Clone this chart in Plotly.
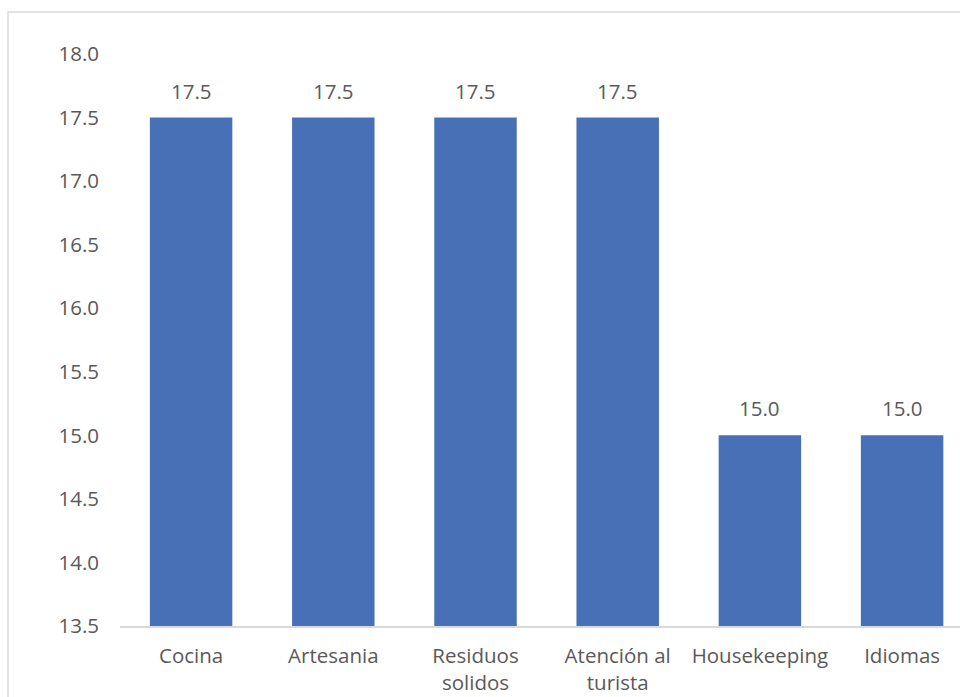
import plotly.graph_objects as go

categories = ["Cocina", "Artesania", "Residuos<br>solidos", "Atención al<br>turista", "Housekeeping", "Idiomas"]
values = [17.5, 17.5, 17.5, 17.5, 15.0, 15.0]
y_ticks = [13.5, 14.0, 14.5, 15.0, 15.5, 16.0, 16.5, 17.0, 17.5, 18.0]
y_base = 13.5

W, H = 960, 697
L, R, T, B = 120, 0, 54, 71
plot_w = W - L - R
plot_h = H - T - B
cat_px = 142.2
x_max = -0.5 + plot_w / cat_px

FONT = "Open Sans"
FS = 20.5
GRAY = "#595959"

fig = go.Figure()
fig.add_trace(go.Bar(
    x=list(range(len(categories))), y=[v - y_base for v in values], base=y_base,
    width=0.58, marker=dict(color="#4770b7", line=dict(width=0)),
    hoverinfo="skip",
))

for i, v in enumerate(values):
    fig.add_annotation(x=i, y=v, text=f"{v:.1f}", showarrow=False,
                       yanchor="bottom", yshift=11,
                       font=dict(family=FONT, size=FS, color=GRAY))

fig.update_layout(
    width=W, height=H,
    margin=dict(l=L, r=R, t=T, b=B, pad=0, autoexpand=False),
    paper_bgcolor="white", plot_bgcolor="white",
    showlegend=False,
    font=dict(family=FONT, size=FS, color=GRAY),
    xaxis=dict(
        tickmode="array", tickvals=list(range(len(categories))), ticktext=categories,
        range=[-0.5, x_max], showgrid=False, zeroline=False, automargin=False,
        showline=True, linecolor="#d9d9d9", linewidth=1.5,
        ticks="", ticklabelstandoff=11,
        tickfont=dict(family=FONT, size=FS, color=GRAY),
    ),
    yaxis=dict(
        range=[y_ticks[0], y_ticks[-1]], tickvals=y_ticks, tickformat=".1f",
        showgrid=False, zeroline=False, showline=False, automargin=False,
        ticks="", ticklabelstandoff=20,
        tickfont=dict(family=FONT, size=FS, color=GRAY),
    ),
)

# outer chart border (top-left corner visible)
fig.add_shape(type="rect", xref="paper", yref="paper",
              x0=(8 - L) / plot_w, x1=(W + 30 - L) / plot_w,
              y0=-(B + 30) / plot_h, y1=(T + plot_h - 12) / plot_h,
              line=dict(color="#d9d9d9", width=1.5), fillcolor="rgba(0,0,0,0)", layer="below")

fig.write_html(
    "out.html",
    config={"displayModeBar": False, "staticPlot": True},
    post_script="document.body.style.margin='0';document.body.style.overflow='hidden';",
)
